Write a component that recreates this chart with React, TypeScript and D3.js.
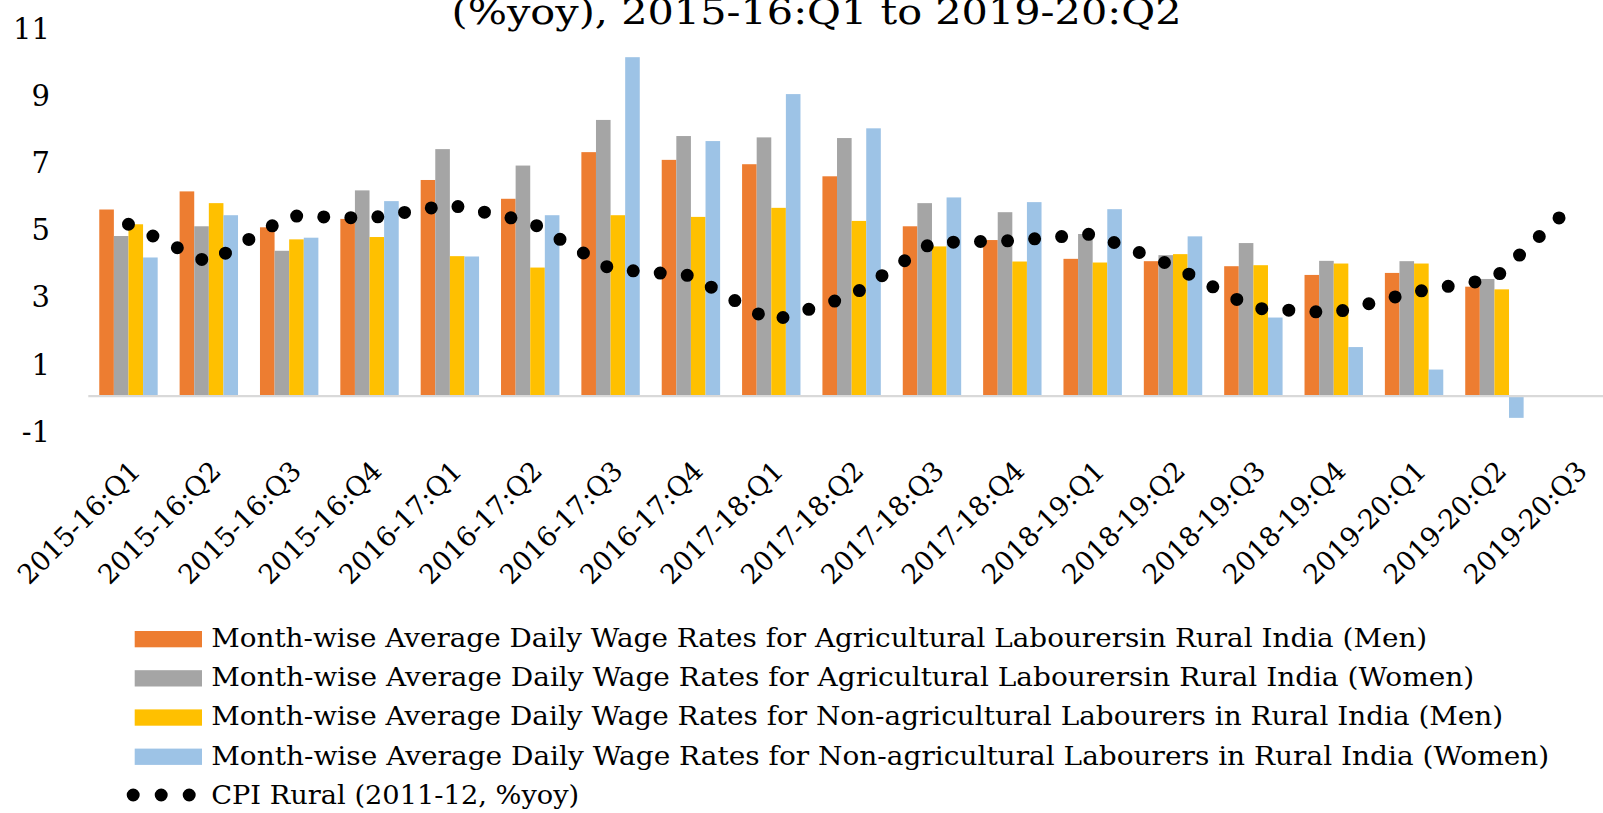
import React, { useRef, useEffect } from "react";
import * as d3 from "d3";

// quarters on the category axis (last one only carries the CPI line)
const categories = [
  "2015-16:Q1", "2015-16:Q2", "2015-16:Q3", "2015-16:Q4",
  "2016-17:Q1", "2016-17:Q2", "2016-17:Q3", "2016-17:Q4",
  "2017-18:Q1", "2017-18:Q2", "2017-18:Q3", "2017-18:Q4",
  "2018-19:Q1", "2018-19:Q2", "2018-19:Q3", "2018-19:Q4",
  "2019-20:Q1", "2019-20:Q2", "2019-20:Q3",
];

const agriMen = [5.56, 6.10, 5.03, 5.28, 6.44, 5.88, 7.27, 7.04, 6.91, 6.55, 5.06, 4.65, 4.09, 4.02, 3.87, 3.61, 3.67, 3.26, null];
const agriWomen = [4.77, 5.06, 4.33, 6.13, 7.36, 6.87, 8.23, 7.75, 7.71, 7.69, 5.75, 5.48, 4.83, 4.20, 4.56, 4.03, 4.02, 3.49, null];
const nonAgriMen = [5.12, 5.75, 4.67, 4.74, 4.17, 3.83, 5.39, 5.34, 5.61, 5.22, 4.46, 4.01, 3.98, 4.23, 3.90, 3.95, 3.95, 3.18, null];
const nonAgriWomen = [4.13, 5.39, 4.72, 5.81, 4.16, 5.39, 10.10, 7.60, 9.00, 7.98, 5.92, 5.78, 5.57, 4.76, 2.34, 1.46, 0.79, -0.65, null];
const cpiRural = [5.12, 3.97, 5.37, 5.30, 5.70, 5.19, 3.79, 3.59, 2.23, 2.99, 4.57, 4.63, 4.83, 3.88, 2.62, 2.48, 3.10, 3.50, 5.75];

const yTicks = [-1, 1, 3, 5, 7, 9, 11];

const seriesNames = [
  "Month-wise Average Daily Wage Rates for Agricultural Labourersin Rural India (Men)",
  "Month-wise Average Daily Wage Rates for Agricultural Labourersin Rural India (Women)",
  "Month-wise Average Daily Wage Rates for Non-agricultural Labourers in Rural India (Men)",
  "Month-wise Average Daily Wage Rates for Non-agricultural Labourers in Rural India (Women)",
];
const lineName = "CPI Rural (2011-12, %yoy)";
const titleText = "(%yoy), 2015-16:Q1 to 2019-20:Q2";

const colors = ["#ED7D31", "#A5A5A5", "#FFC000", "#9DC3E6"];
const FONT = "'DejaVu Serif', Georgia, serif";

const App = () => {
  const svgRef = useRef(null);

  useEffect(() => {
    if (!svgRef.current) return;

    const width = 1603;
    const height = 813;

    const svg = d3.select(svgRef.current)
      .attr("width", width)
      .attr("height", height);
    svg.selectAll("*").remove();

    // plot area (it runs past the right edge, as in the original crop)
    const left = 88.3;
    const step = 80.35;
    const pad = 1 - 58.4 / step;

    const x0 = d3.scaleBand()
      .domain(categories)
      .range([left, left + step * categories.length])
      .paddingInner(pad)
      .paddingOuter(pad / 2);

    const x1 = d3.scaleBand()
      .domain(d3.range(4).map(String))
      .range([0, x0.bandwidth()]);

    const y = d3.scaleLinear().domain([-1, 11]).range([429.6, 27]);

    const allSeries = [agriMen, agriWomen, nonAgriMen, nonAgriWomen];

    // bars
    allSeries.forEach((vals, si) => {
      svg.append("g")
        .selectAll("rect")
        .data(vals.map((v, i) => ({ v, c: categories[i] })).filter((d) => d.v !== null))
        .enter()
        .append("rect")
        .attr("x", (d) => x0(d.c) + x1(String(si)))
        .attr("width", x1.bandwidth())
        .attr("y", (d) => y(Math.max(0, d.v)))
        .attr("height", (d) => Math.abs(y(d.v) - y(0)))
        .style("fill", colors[si]);
    });

    // zero axis line
    svg.append("line")
      .attr("x1", left)
      .attr("x2", width)
      .attr("y1", y(0))
      .attr("y2", y(0))
      .style("stroke", "#D9D9D9")
      .style("stroke-width", 2.3);

    // CPI line, round-dot style
    const line = d3.line()
      .x((d, i) => x0(categories[i]) + x0.bandwidth() / 2)
      .y((d) => y(d));

    svg.append("path")
      .datum(cpiRural)
      .attr("d", line)
      .style("fill", "none")
      .style("stroke", "#000")
      .style("stroke-width", 13)
      .style("stroke-linecap", "round")
      .style("stroke-dasharray", "0 27.1");

    // y tick labels
    svg.append("g")
      .selectAll("text")
      .data(yTicks)
      .enter()
      .append("text")
      .attr("x", 50)
      .attr("y", (d) => y(d) + 2)
      .attr("text-anchor", "end")
      .attr("dominant-baseline", "central")
      .style("font-family", FONT)
      .style("font-size", "29px")
      .text((d) => d);

    // rotated category labels
    svg.append("g")
      .selectAll("text")
      .data(categories)
      .enter()
      .append("text")
      .attr("transform", (d) => `translate(${x0(d) + x0.bandwidth() / 2 + 7}, 466) rotate(-45)`)
      .attr("text-anchor", "end")
      .attr("dominant-baseline", "central")
      .attr("textLength", 160)
      .attr("lengthAdjust", "spacingAndGlyphs")
      .style("font-family", FONT)
      .style("font-size", "27px")
      .text((d) => d);

    // title (only its second line is inside the frame)
    svg.append("text")
      .attr("x", 451.5)
      .attr("y", 24)
      .attr("textLength", 730)
      .attr("lengthAdjust", "spacingAndGlyphs")
      .style("font-family", FONT)
      .style("font-size", "36px")
      .text(titleText);

    // legend
    const legendWidths = [1216, 1263, 1292, 1338];
    const rowY = (i) => 639.2 + i * 39.2;

    const legend = svg.append("g");
    seriesNames.forEach((name, i) => {
      legend.append("rect")
        .attr("x", 134.7)
        .attr("y", rowY(i) - 8.2)
        .attr("width", 67.3)
        .attr("height", 16.3)
        .style("fill", colors[i]);
      legend.append("text")
        .attr("x", 211.2)
        .attr("y", rowY(i) + 7.8)
        .attr("textLength", legendWidths[i])
        .attr("lengthAdjust", "spacingAndGlyphs")
        .style("font-family", FONT)
        .style("font-size", "26px")
        .text(name);
    });

    legend.append("line")
      .attr("x1", 133.2)
      .attr("x2", 190)
      .attr("y1", rowY(4) - 1)
      .attr("y2", rowY(4) - 1)
      .style("stroke", "#000")
      .style("stroke-width", 13)
      .style("stroke-linecap", "round")
      .style("stroke-dasharray", "0 28");

    legend.append("text")
      .attr("x", 211.2)
      .attr("y", rowY(4) + 7.8)
      .attr("textLength", 368)
      .attr("lengthAdjust", "spacingAndGlyphs")
      .style("font-family", FONT)
      .style("font-size", "26px")
      .text(lineName);
  });

  return (
    <div style={{ position: "absolute", left: 0, top: 0 }}>
      <svg ref={svgRef} style={{ display: "block", background: "#fff" }} />
    </div>
  );
};

export default App;
